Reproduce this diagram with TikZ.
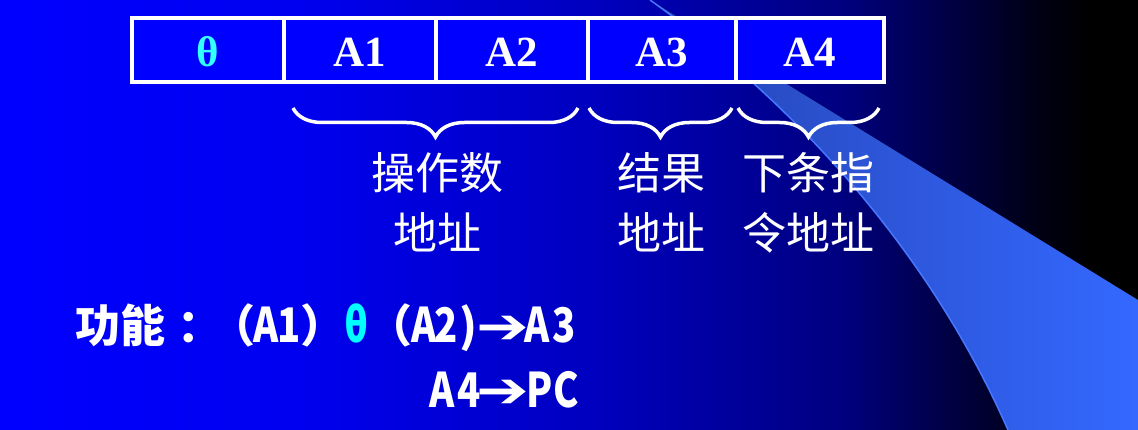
\documentclass[tikz,border=0pt]{standalone}
\usepackage{fontspec}
\usepackage{graphicx}
\setmainfont{Liberation Serif}
\newfontfamily\cjk{Noto Sans CJK SC}
\newfontfamily\arrowfont{DejaVu Sans}
\usetikzlibrary{decorations.pathreplacing}
\definecolor{cellblue}{RGB}{0,0,255}
\definecolor{thetacyan}{RGB}{51,255,255}
\definecolor{funccyan}{RGB}{0,255,255}
\definecolor{swL}{RGB}{38,68,180}
\definecolor{swM}{RGB}{50,98,240}
\definecolor{swR}{RGB}{52,104,255}
\definecolor{swEdge}{RGB}{70,120,255}
\pgfdeclarehorizontalshading{bgshade}{100bp}{%
  rgb(0bp)=(0,0,1);
  rgb(25bp)=(0,0,1);
  rgb(38bp)=(0,0,0.94);
  rgb(51bp)=(0,0,0.75);
  rgb(62bp)=(0,0,0.5);
  rgb(67bp)=(0,0,0.25);
  rgb(71bp)=(0,0,0.06);
  rgb(73bp)=(0,0,0);
  rgb(100bp)=(0,0,0)}
% narrow Latin glyph in a fixed-width box for the function line
\newcommand\hwglyph[2][0.5em]{\makebox[#1]{\scalebox{0.85}[1.06]{#2}}}
\newcommand\funcarrow{\makebox[40pt]{\raisebox{-0.5pt}{\scalebox{1.4}[1.1]{\arrowfont ➔}}}}
\tikzset{
  cell/.style={draw=white, line width=3.5pt, fill=cellblue, inner sep=0pt,
    minimum height=64pt, text=white, text height=34pt, text depth=0pt,
    font=\bfseries\fontsize{43}{43}\selectfont},
  bracestyle/.style={draw=white, line width=3.5pt,
    decorate, decoration={brace, mirror, amplitude=29pt}},
  label/.style={text=white, align=center, inner sep=0pt,
    font=\cjk\fontsize{44}{60}\selectfont},
  func/.style={text=white, inner sep=0pt,
    font=\cjk\bfseries\fontsize{45}{45}\selectfont}
}
\begin{document}
\begin{tikzpicture}[x=1pt,y=-1pt]
\useasboundingbox (0,0) rectangle (1138,430);
% background
\fill[shading=bgshade] (0,0) rectangle (1138,430);
% swoosh
\fill[left color=swL, middle color=swM, right color=swR]
  (650,0) -- (1138,300) -- (1138,430) -- (1008,430)
  .. controls (920,230) and (770,85) .. (650,0) -- cycle;
\draw[swEdge, line width=1.5pt] (1008,430) .. controls (920,230) and (770,85) .. (650,0);
% instruction cells
\node[cell, minimum width=152pt] (c0) at (208,50) {\textcolor{thetacyan}{θ}};
\node[cell, minimum width=152pt] (c1) at (360,50) {A1};
\node[cell, minimum width=152pt] (c2) at (512,50) {A2};
\node[cell, minimum width=148pt] (c3) at (662,50) {A3};
\node[cell, minimum width=148pt] (c4) at (810,50) {A4};
% braces
\coordinate (b1s) at (293,108); \coordinate (b1e) at (578,108);
\coordinate (b2s) at (589,108); \coordinate (b2e) at (732,108);
\coordinate (b3s) at (738,108); \coordinate (b3e) at (879,108);
\draw[bracestyle] (b1s) -- (b1e);
\draw[bracestyle] (b2s) -- (b2e);
\draw[bracestyle] (b3s) -- (b3e);
% labels (anchor base = baseline of the last line)
\node[label, anchor=base] (l1) at (437,250) {操作数\\地址};
\node[label, anchor=base] (l2) at (661,250) {结果\\地址};
\node[label, anchor=base] (l3) at (808,250) {下条指\\令地址};
% function text
\node[func, anchor=base west] (f1) at (75,343)
  {功能\hspace{12pt}：\hspace{-12pt}（\hwglyph{A}\hwglyph{1}）\hwglyph{\textcolor{funccyan}{θ}}（\hwglyph{A}\hwglyph{2}\makebox[0.5em]{)}\hspace{3pt}\funcarrow\hwglyph[0.6em]{A}\hwglyph[0.6em]{3}};
\node[func, anchor=base east] (f2) at (580,407)
  {\hwglyph[0.6em]{A}\hwglyph[0.6em]{4}\funcarrow\hspace{3pt}\hwglyph[0.6em]{P}\hwglyph[0.6em]{C}};
\end{tikzpicture}
\end{document}
